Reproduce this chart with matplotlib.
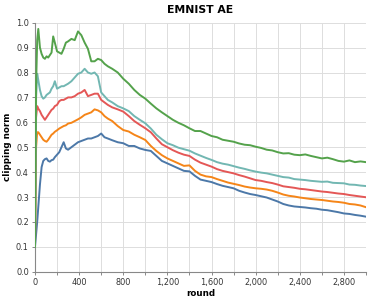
import matplotlib.pyplot as plt
from matplotlib.ticker import MultipleLocator, FuncFormatter

rounds = [0, 10, 20, 30, 45, 60, 75, 90, 105, 120, 135, 150, 165, 180, 200, 220,
          240, 260, 280, 300, 330, 360, 390, 420, 450, 480, 510, 540, 570, 600, 630, 660,
          700, 750, 800, 850, 900, 950, 1000, 1050, 1100, 1150, 1200, 1250, 1300, 1350,
          1400, 1450, 1500, 1550, 1600, 1650, 1700, 1750, 1800, 1850, 1900, 1950, 2000,
          2050, 2100, 2150, 2200, 2250, 2300, 2350, 2400, 2450, 2500, 2550, 2600, 2650,
          2700, 2750, 2800, 2850, 2900, 2950, 3000]

blue = [0.10, 0.15, 0.20, 0.26, 0.35, 0.42, 0.445, 0.452, 0.455, 0.445, 0.442, 0.448, 0.45, 0.46, 0.47, 0.48,
        0.50, 0.52, 0.495, 0.49, 0.50, 0.51, 0.52, 0.525, 0.53, 0.535, 0.535, 0.54, 0.545, 0.555, 0.54, 0.535,
        0.528, 0.52, 0.516, 0.505, 0.505, 0.495, 0.489, 0.485, 0.465, 0.445, 0.435, 0.425, 0.415, 0.405,
        0.403, 0.385, 0.37, 0.365, 0.36, 0.352, 0.345, 0.34, 0.335, 0.325, 0.318, 0.312, 0.308,
        0.303, 0.298, 0.29, 0.282, 0.272, 0.266, 0.262, 0.26, 0.258, 0.255, 0.253, 0.249, 0.247,
        0.243, 0.239, 0.234, 0.232, 0.228, 0.225, 0.221]

orange = [0.10, 0.50, 0.56, 0.56, 0.55, 0.54, 0.53, 0.525, 0.522, 0.53, 0.54, 0.55, 0.555, 0.562, 0.568, 0.575,
          0.58, 0.585, 0.588, 0.595, 0.598, 0.605, 0.612, 0.62, 0.63, 0.635, 0.64, 0.652, 0.648, 0.64, 0.625, 0.615,
          0.605, 0.585, 0.569, 0.563, 0.55, 0.54, 0.529, 0.505, 0.485, 0.468, 0.455, 0.445, 0.435, 0.425,
          0.427, 0.405, 0.39, 0.383, 0.38, 0.372, 0.365, 0.358, 0.353, 0.348, 0.342, 0.338, 0.335,
          0.333, 0.33, 0.325, 0.318, 0.31, 0.305, 0.302, 0.298, 0.295, 0.292, 0.29, 0.288, 0.285,
          0.282, 0.28, 0.277, 0.272, 0.27, 0.266, 0.259]

red = [0.10, 0.62, 0.665, 0.655, 0.645, 0.63, 0.62, 0.61, 0.62, 0.63, 0.64, 0.65, 0.655, 0.665, 0.67, 0.685,
       0.69, 0.69, 0.695, 0.70, 0.70, 0.705, 0.715, 0.72, 0.73, 0.705, 0.71, 0.715, 0.715, 0.69, 0.68, 0.67,
       0.66, 0.652, 0.643, 0.625, 0.605, 0.59, 0.576, 0.56, 0.535, 0.512, 0.50, 0.488, 0.478, 0.47,
       0.465, 0.45, 0.438, 0.43, 0.422, 0.412, 0.405, 0.40, 0.395, 0.388, 0.382, 0.375, 0.368,
       0.365, 0.36, 0.356, 0.35, 0.343, 0.34, 0.337, 0.333, 0.331, 0.328, 0.325, 0.322, 0.32,
       0.317, 0.314, 0.312, 0.308, 0.305, 0.302, 0.299]

teal = [0.10, 0.70, 0.795, 0.77, 0.73, 0.705, 0.695, 0.70, 0.71, 0.715, 0.72, 0.735, 0.745, 0.765, 0.735, 0.74,
        0.745, 0.745, 0.75, 0.755, 0.765, 0.78, 0.795, 0.80, 0.815, 0.80, 0.795, 0.80, 0.785, 0.72, 0.705, 0.69,
        0.68, 0.665, 0.656, 0.645, 0.625, 0.61, 0.596, 0.575, 0.55, 0.532, 0.516, 0.508, 0.498, 0.492,
        0.486, 0.475, 0.466, 0.457, 0.449, 0.44, 0.434, 0.43, 0.424, 0.418, 0.413, 0.407, 0.402,
        0.398, 0.395, 0.39, 0.385, 0.38, 0.378, 0.372, 0.37, 0.368, 0.365, 0.363, 0.361, 0.362,
        0.357, 0.356, 0.355, 0.35, 0.349, 0.346, 0.344]

green = [0.10, 0.75, 0.93, 0.975, 0.90, 0.875, 0.86, 0.855, 0.865, 0.86, 0.87, 0.88, 0.945, 0.92, 0.885, 0.88,
         0.875, 0.895, 0.92, 0.925, 0.935, 0.93, 0.965, 0.95, 0.92, 0.895, 0.845, 0.845, 0.855, 0.85, 0.835, 0.825,
         0.815, 0.80, 0.775, 0.755, 0.73, 0.71, 0.695, 0.675, 0.656, 0.64, 0.625, 0.61, 0.598, 0.588,
         0.576, 0.565, 0.565, 0.555, 0.545, 0.54, 0.53, 0.526, 0.522, 0.515, 0.51, 0.508, 0.502,
         0.497, 0.49, 0.487, 0.48, 0.475, 0.476, 0.47, 0.468, 0.471, 0.465, 0.46, 0.455, 0.458,
         0.452, 0.445, 0.442, 0.447, 0.44, 0.443, 0.44]

series = [blue, orange, red, teal, green]
colors = ['#4c78a8', '#f58518', '#e45756', '#72b7b2', '#54a24b']

plt.rcParams['font.family'] = 'DejaVu Sans'

fig = plt.figure(figsize=(3.71, 3.0), dpi=100)
ax = fig.add_axes([0.0943, 0.0943, 0.8922, 0.83])

for ys, c in zip(series, colors):
    ax.plot(rounds, ys, color=c, linewidth=1.4, zorder=3)

ax.set_xlim(0, 3000)
ax.set_ylim(0, 1.0)
ax.xaxis.set_major_locator(MultipleLocator(200))
ax.yaxis.set_major_locator(MultipleLocator(0.1))
ax.xaxis.set_major_formatter(FuncFormatter(lambda v, p: "{:,}".format(int(v)) if int(v) % 400 == 0 and v < 3000 else ""))
ax.yaxis.set_major_formatter(FuncFormatter(lambda v, p: "{:.1f}".format(v)))

ax.grid(True, color='#dddddd', linewidth=0.7, zorder=0)
ax.set_axisbelow(True)
for s in ['top', 'right']:
    ax.spines[s].set_visible(False)
for s in ['left', 'bottom']:
    ax.spines[s].set_color('#888888')
    ax.spines[s].set_linewidth(0.8)
ax.tick_params(colors='#888888', length=2.4, width=0.7, pad=2, labelsize=5.9, labelcolor='#333333')

ax.set_xlabel("round", fontsize=6.3, fontweight='bold', va='top')
ax.xaxis.set_label_coords(0.5, -0.068)
ax.set_ylabel("clipping norm", fontsize=6.3, fontweight='bold')
ax.yaxis.set_label_coords(-0.07, 0.5)
ax.set_title("EMNIST AE", fontsize=7.8, fontweight='bold', pad=7)

plt.savefig("out.png", dpi=100)
